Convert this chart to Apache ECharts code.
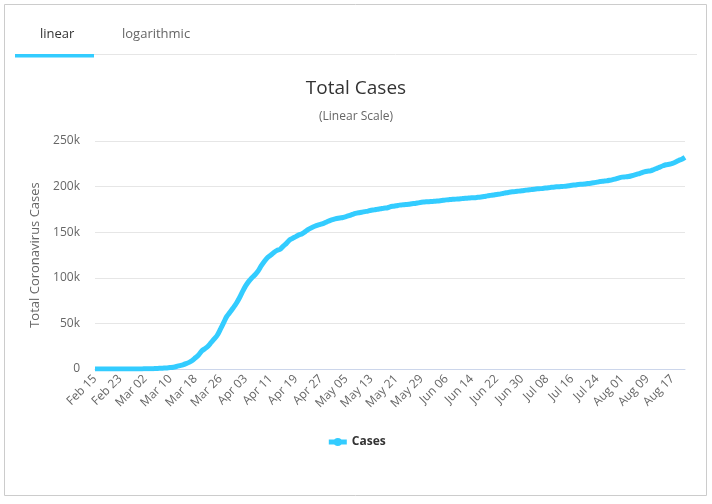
<!DOCTYPE html>
<html>
<head>
<meta charset="utf-8">
<script src="https://cdn.jsdelivr.net/npm/echarts@6/dist/echarts.min.js"></script>
<style>
html,body{margin:0;padding:0;background:#fff;}
#c{width:712px;height:504px;}
</style>
</head>
<body>
<div id="c"></div>
<script>
// Data: daily total cases from Feb 15 to Aug 21
const startDate = [2020, 1, 15]; // Feb 15 (month index 1)
const cases = [
  16,16,16,16,16,16,16,16,16,16,18,21,26,53,66,
  130,159,196,262,482,670,799,1040,1224,1565,1966,2745,3675,4599,5813,7272,9360,12327,15320,19848,22213,24873,29056,32991,37323,43938,50871,57695,62095,66885,71808,
  77872,84794,91159,96092,100123,103374,107663,113296,118181,122171,124908,127854,130072,131359,134753,137698,141397,143342,145184,147065,148291,150648,153129,154999,156513,157770,158758,159912,161539,163009,
  164077,164967,165664,166152,167007,168162,169430,170588,171324,171879,172576,173171,174098,174478,175233,175752,176369,176551,177778,178473,179021,179710,179986,180328,180600,181200,181524,182196,182922,183189,183410,
  183594,183879,184121,184472,184924,185450,185750,186022,186269,186522,186839,187226,187423,187671,187764,188252,188604,189135,189822,190359,190862,191449,191768,192480,193243,193761,194259,194725,195042,195418,
  195893,196370,196780,197198,197523,197783,198178,198556,198963,199375,199726,199919,200180,200456,200890,201450,201823,202345,202572,202799,203325,203717,204276,204881,205623,205955,206278,206926,207707,208546,209653,
  210402,210670,211005,211880,212828,213867,215039,216196,216903,217293,218519,219964,221413,222828,224014,224488,225404,226914,228621,230048,232082
];
const monthNames = ['Jan','Feb','Mar','Apr','May','Jun','Jul','Aug','Sep','Oct','Nov','Dec'];
const dates = [];
for (let i = 0; i < cases.length; i++) {
  const d = new Date(Date.UTC(startDate[0], startDate[1], startDate[2] + i));
  dates.push(monthNames[d.getUTCMonth()] + ' ' + String(d.getUTCDate()).padStart(2, '0'));
}
const yTicks = [0, 50000, 100000, 150000, 200000, 250000];
const tabs = ['linear', 'logarithmic'];
const titleText = 'Total Cases';
const subtitleText = '(Linear Scale)';
const yAxisName = 'Total Coronavirus Cases';
const seriesName = 'Cases';

const FONT = '"Open Sans", "Noto Sans", sans-serif';
const chart = echarts.init(document.getElementById('c'));
chart.setOption({
  backgroundColor: '#fff',
  animation: false,
  textStyle: { fontFamily: FONT },
  graphic: [
    { type: 'rect', shape: { x: 4.5, y: 4.5, width: 702, height: 491 }, style: { fill: 'none', stroke: '#cccccc', lineWidth: 1 }, z: 0 },
    { type: 'line', shape: { x1: 94, y1: 54.5, x2: 697, y2: 54.5 }, style: { stroke: '#e6e6e6', lineWidth: 1 } },
    { type: 'rect', shape: { x: 15, y: 54, width: 79, height: 3.5 }, style: { fill: '#33ccff' } },
    { type: 'text', left: 40, top: 28, style: { text: tabs[0], fill: '#333', font: '13px ' + FONT } },
    { type: 'text', left: 122, top: 28, style: { text: tabs[1], fill: '#666', font: '13px ' + FONT } }
  ],
  title: {
    text: titleText,
    subtext: subtitleText,
    left: 'center',
    top: 74,
    itemGap: 13,
    textStyle: { fontSize: 19, fontWeight: 'normal', color: '#333', fontFamily: FONT },
    subtextStyle: { fontSize: 12, color: '#666', fontFamily: FONT }
  },
  legend: {
    data: [seriesName],
    top: 431,
    left: 'center',
    itemWidth: 18,
    itemHeight: 10,
    lineStyle: { width: 5 },
    textStyle: { fontSize: 12, fontWeight: 'bold', color: '#333', fontFamily: FONT }
  },
  grid: { left: 95, right: 27, top: 141, bottom: 135 },
  xAxis: {
    type: 'category',
    data: dates,
    boundaryGap: false,
    axisLine: { lineStyle: { color: '#ccd6eb' } },
    axisTick: { show: false },
    axisLabel: { rotate: 45, interval: 7, color: '#666', fontSize: 12, margin: 8, fontFamily: FONT }
  },
  yAxis: {
    type: 'value',
    min: 0,
    max: yTicks[yTicks.length - 1],
    interval: 50000,
    name: yAxisName,
    nameLocation: 'middle',
    nameGap: 50,
    nameTextStyle: { color: '#666', fontSize: 13, fontFamily: FONT },
    axisLine: { show: false },
    axisTick: { show: false },
    splitLine: { lineStyle: { color: '#e6e6e6' } },
    axisLabel: { color: '#666', fontSize: 12, margin: 15, fontFamily: FONT,
      formatter: v => v === 0 ? '0' : (v / 1000) + 'k' }
  },
  series: [{
    name: seriesName,
    type: 'line',
    data: cases,
    smooth: 0.3,
    symbol: 'circle',
    symbolSize: 8,
    showSymbol: false,
    lineStyle: { color: '#33ccff', width: 5 },
    itemStyle: { color: '#33ccff' }
  }]
});
</script>
</body>
</html>
